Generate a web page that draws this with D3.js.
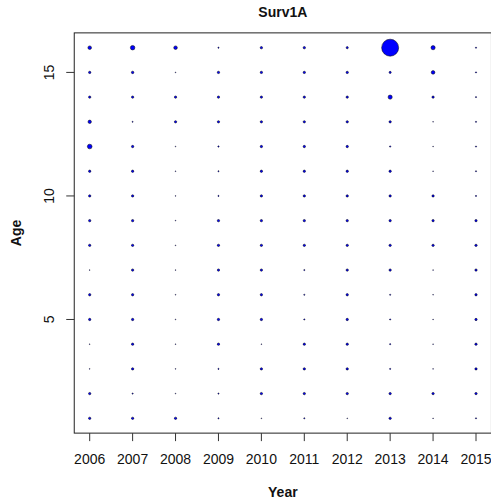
<!DOCTYPE html>
<html>
<head>
<meta charset="utf-8">
<script src="https://cdn.jsdelivr.net/npm/d3@7"></script>
<style>
  body { margin: 0; background: #fff; }
  text { font-family: "Liberation Sans", Arial, sans-serif; fill: #111; }
</style>
</head>
<body>
<div id="chart"></div>
<script>
var years = [2006, 2007, 2008, 2009, 2010, 2011, 2012, 2013, 2014, 2015]
var ages = [16, 15, 14, 13, 12, 11, 10, 9, 8, 7, 6, 5, 4, 3, 2, 1]
var yTicks = [5, 10, 15]

// one row per age, columns follow years
var age16 = [4.5, 7, 4.5, 0.5, 1.9, 1.9, 1.6, 100, 6, 0.5]
var age15 = [1.9, 2.1, 0.2, 1.9, 1.9, 1.9, 1.9, 1.6, 4.5, 0.5]
var age14 = [1.9, 1.9, 1.9, 1.9, 1.9, 1.9, 1.9, 6, 1.9, 0.5]
var age13 = [4, 0.4, 1.9, 1.9, 1.9, 1.9, 1.9, 1.9, 0.2, 0.5]
var age12 = [7.5, 1.9, 0.2, 0.6, 1.9, 1.9, 1.9, 0.6, 0.2, 0.5]
var age11 = [1.9, 1.9, 0.2, 0.5, 1.9, 1.9, 1.9, 1.9, 0.2, 0.5]
var age10 = [1.9, 1.9, 0.2, 0.5, 1.9, 1.9, 1.9, 1.9, 1.9, 0.5]
var age9 = [1.9, 1.9, 0.2, 1.9, 1.9, 1.9, 1.9, 1.9, 1.9, 1.9]
var age8 = [1.9, 1.9, 0.2, 1.9, 1.9, 1.9, 1.9, 1.9, 1.9, 1.9]
var age7 = [0.2, 1.9, 0.2, 1.9, 1.9, 0.5, 1.9, 1.9, 0.2, 1.9]
var age6 = [1.9, 1.9, 0.2, 1.9, 1.9, 0.5, 1.9, 0.5, 0.2, 1.9]
var age5 = [1.9, 1.9, 0.2, 1.9, 1.9, 0.5, 1.9, 0.5, 0.2, 1.9]
var age4 = [0.2, 1.9, 0.2, 1.9, 0.2, 1.9, 1.9, 0.5, 0.2, 1.9]
var age3 = [0.2, 1.9, 0.2, 0.5, 1.9, 1.9, 1.9, 0.5, 0.2, 1.9]
var age2 = [1.9, 0.5, 0.2, 0.5, 1.9, 1.9, 1.9, 1.9, 1.9, 1.9]
var age1 = [1.9, 1.9, 1.9, 0.5, 0.2, 0.5, 0.2, 1.9, 0.2, 0.5]

var rows = [age16, age15, age14, age13, age12, age11, age10, age9,
            age8, age7, age6, age5, age4, age3, age2, age1]

var data = []
rows.forEach(function (row, i) {
  row.forEach(function (v, j) {
    data.push({ year: years[j], age: ages[i], value: v })
  })
})

var width = 491, height = 502

var x = d3.scaleLinear().domain([2006, 2015]).range([89.7, 476])
var y = d3.scaleLinear().domain([1, 16]).range([418.3, 47.7])
var r = d3.scaleSqrt().domain([0, 100]).range([0, 8.5])

var x0 = x(2006 - 0.36), x1 = x(2015 + 0.36)
var y0 = y(16 + 0.6), y1 = y(1 - 0.6)

var svg = d3.select('#chart').append('svg')
  .attr('width', width)
  .attr('height', height)

// box
svg.append('rect')
  .attr('x', x0).attr('y', y0)
  .attr('width', x1 - x0).attr('height', y1 - y0)
  .attr('fill', 'none')
  .attr('stroke', '#222')
  .attr('stroke-width', 1)

// x axis
var xAxis = svg.append('g').attr('class', 'x axis')
xAxis.selectAll('line').data(years).enter().append('line')
  .attr('x1', d => x(d)).attr('x2', d => x(d))
  .attr('y1', y1).attr('y2', y1 + 8)
  .attr('stroke', '#333')
xAxis.selectAll('text').data(years).enter().append('text')
  .attr('x', d => x(d)).attr('y', 464)
  .attr('text-anchor', 'middle')
  .style('font-size', '14px')
  .text(d => d)

// y axis
var yAxis = svg.append('g').attr('class', 'y axis')
yAxis.selectAll('line').data(yTicks).enter().append('line')
  .attr('x1', x0 - 8).attr('x2', x0)
  .attr('y1', d => y(d)).attr('y2', d => y(d))
  .attr('stroke', '#333')
yAxis.selectAll('text').data(yTicks).enter().append('text')
  .attr('transform', d => 'translate(54,' + y(d) + ') rotate(-90)')
  .attr('text-anchor', 'middle')
  .style('font-size', '14px')
  .text(d => d)

// bubbles
svg.append('g').selectAll('circle').data(data).enter().append('circle')
  .attr('cx', d => x(d.year))
  .attr('cy', d => y(d.age))
  .attr('r', d => r(d.value))
  .attr('fill', '#0000ff')
  .attr('stroke', '#000')
  .attr('stroke-width', 0.5)

// titles
svg.append('text')
  .attr('x', (x0 + x1) / 2).attr('y', 17)
  .attr('text-anchor', 'middle')
  .style('font-size', '14px').style('font-weight', 'bold')
  .text('Surv1A')

svg.append('text')
  .attr('x', (x0 + x1) / 2).attr('y', 497)
  .attr('text-anchor', 'middle')
  .style('font-size', '14px').style('font-weight', 'bold')
  .text('Year')

svg.append('text')
  .attr('transform', 'translate(21,' + (y0 + y1) / 2 + ') rotate(-90)')
  .attr('text-anchor', 'middle')
  .style('font-size', '14px').style('font-weight', 'bold')
  .text('Age')
</script>
</body>
</html>
